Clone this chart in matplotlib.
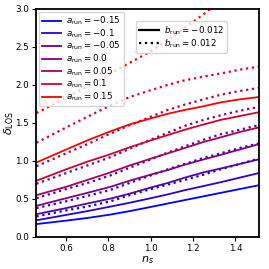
import numpy as np
import matplotlib
matplotlib.use("Agg")
import matplotlib.pyplot as plt
from matplotlib.lines import Line2D

# n_s sample points
n_s = [0.46, 0.6, 0.7, 0.81, 0.9, 1.0, 1.08, 1.16, 1.25, 1.33, 1.42, 1.51]

a_run = [-0.15, -0.1, -0.05, 0.0, 0.05, 0.1, 0.15]
b_run = [-0.012, 0.012]

# delta_LOS for b_run = -0.012 (solid), one row per a_run
delta_bneg = [
    [0.17, 0.215, 0.25, 0.295, 0.34, 0.395, 0.44, 0.485, 0.535, 0.58, 0.63, 0.68],
    [0.22, 0.29, 0.34, 0.40, 0.45, 0.51, 0.56, 0.615, 0.67, 0.72, 0.78, 0.84],
    [0.30, 0.38, 0.44, 0.505, 0.57, 0.65, 0.71, 0.78, 0.85, 0.90, 0.96, 1.02],
    [0.41, 0.51, 0.58, 0.66, 0.74, 0.82, 0.88, 0.95, 1.02, 1.08, 1.15, 1.22],
    [0.55, 0.66, 0.75, 0.85, 0.94, 1.03, 1.10, 1.17, 1.25, 1.31, 1.38, 1.44],
    [0.74, 0.89, 0.99, 1.09, 1.18, 1.27, 1.34, 1.41, 1.48, 1.54, 1.59, 1.64],
    [0.98, 1.15, 1.27, 1.39, 1.48, 1.56, 1.62, 1.67, 1.72, 1.77, 1.81, 1.84],
]

# delta_LOS for b_run = 0.012 (dotted)
delta_bpos = [
    [0.27, 0.35, 0.40, 0.47, 0.55, 0.63, 0.69, 0.75, 0.82, 0.89, 0.96, 1.03],
    [0.38, 0.47, 0.54, 0.62, 0.71, 0.81, 0.89, 0.96, 1.04, 1.10, 1.17, 1.23],
    [0.51, 0.63, 0.71, 0.81, 0.91, 1.02, 1.11, 1.19, 1.28, 1.35, 1.41, 1.47],
    [0.70, 0.84, 0.94, 1.05, 1.16, 1.28, 1.37, 1.46, 1.54, 1.60, 1.66, 1.71],
    [0.93, 1.10, 1.22, 1.36, 1.47, 1.58, 1.67, 1.74, 1.81, 1.87, 1.92, 1.96],
    [1.24, 1.44, 1.58, 1.73, 1.84, 1.93, 2.00, 2.06, 2.11, 2.15, 2.20, 2.24],
    [1.63, 1.83, 1.98, 2.15, 2.29, 2.44, 2.59, 2.75, 2.93, 3.10, 3.30, 3.50],
]


def main():
    plt.rcParams['font.size'] = 6.3
    fig = plt.figure(figsize=(2.69, 2.69), dpi=100)
    ax = fig.add_axes([0.134, 0.119, 0.829, 0.848])

    n = len(a_run)
    for i, a in enumerate(a_run):
        t = i / float(n - 1)
        col = (t, 0.0, 1.0 - t)
        ax.plot(n_s, delta_bneg[i], color=col, lw=1.3, ls='-',
                label=r'$a_{\rm run} = %s$' % a)
        ax.plot(n_s, delta_bpos[i], color=col, lw=1.6, ls=':')

    ax.set_xlim(0.458, 1.512)
    ax.set_ylim(0, 3)
    ax.set_xticks([0.6, 0.8, 1.0, 1.2, 1.4])
    ax.set_yticks([0.0, 0.5, 1.0, 1.5, 2.0, 2.5, 3.0])
    ax.tick_params(labelsize=6.3, length=3, pad=2)
    ax.set_xlabel(r'$n_s$', fontsize=8, labelpad=1)
    ax.set_ylabel(r'$\delta_{\rm LOS}$', fontsize=8)
    ax.yaxis.set_label_coords(-0.088, 0.5)
    for s in ax.spines.values():
        s.set_linewidth(1.3)

    leg1 = ax.legend(loc='upper left', fontsize=6.3, handlelength=2.2,
                     handletextpad=0.6, borderaxespad=0.3, labelspacing=0.02,
                     borderpad=0.35)
    ax.add_artist(leg1)
    handles = [Line2D([], [], color='black', lw=1.6, ls='-'),
               Line2D([], [], color='black', lw=1.6, ls=':')]
    labels = [r'$b_{\rm run} = %s$' % b for b in b_run]
    ax.legend(handles, labels, loc='upper left', bbox_to_anchor=(0.45, 0.945),
              fontsize=6.3, handlelength=2.2, handletextpad=0.6,
              borderaxespad=0.0, labelspacing=0.02, borderpad=0.35)

    fig.savefig('out.png', dpi=100)


if __name__ == "__main__":
    main()
